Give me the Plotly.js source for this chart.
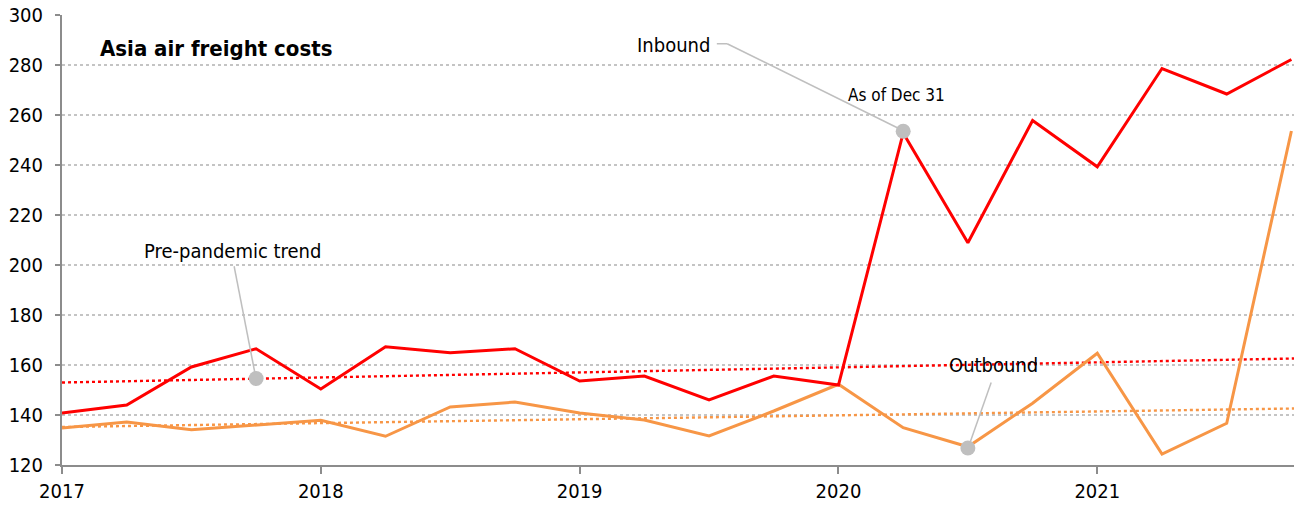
<!DOCTYPE html>
<html><head><meta charset="utf-8">
<script src="https://cdn.plot.ly/plotly-3.0.1.min.js"></script>
<style>html,body{margin:0;padding:0;background:#fff}</style>
</head><body><div id="chart" style="width:1294px;height:508px"></div>
<script>
const quarters = [2017,2017.25,2017.5,2017.75,2018,2018.25,2018.5,2018.75,2019,2019.25,2019.5,2019.75,2020,2020.25,2020.5,2020.75,2021,2021.25,2021.5,2021.75];
const inbound = [140.8,144.0,159.2,166.5,150.4,167.3,164.9,166.5,153.6,155.6,146.0,155.6,152.0,252.8,208.9,257.8,239.3,278.6,268.4,282.2];
const outbound = [134.8,137.2,134.1,136.0,137.9,131.5,143.2,145.2,140.8,138.0,131.6,141.6,152.3,134.9,127.3,144.7,164.7,124.4,136.7,253.6];
const trendX = [2017, 2021.76];
const inboundTrend = [153.0, 162.6];
const outboundTrend = [135.2, 142.6];
const calloutX = [2017.75, 2020.25, 2020.5];
const calloutY = [154.6, 253.5, 126.8];
const yearTicks = [2017,2018,2019,2020,2021];
const yearLabels = ['2017','2018','2019','2020','2021'];

const FONT = 'DejaVu Sans Condensed, DejaVu Sans, sans-serif';
const RED = '#ff0000', ORANGE = '#f79646', GREY = '#bfbfbf';
function f(size, extra){ return Object.assign({family:FONT, size:size, color:'#000', stretch:'condensed'}, extra||{}); }

const traces = [
  {x: trendX, y: outboundTrend, mode:'lines', line:{color:ORANGE, width:2.4, dash:'dot'}, hoverinfo:'skip'},
  {x: trendX, y: inboundTrend, mode:'lines', line:{color:RED, width:2.4, dash:'dot'}, hoverinfo:'skip'},
  {x: quarters, y: outbound, mode:'lines', line:{color:ORANGE, width:3}},
  {x: quarters, y: inbound, mode:'lines', line:{color:RED, width:3}},
  {x: calloutX, y: calloutY, mode:'markers', marker:{color:GREY, size:15}, hoverinfo:'skip'}
];

const layout = {
  width:1294, height:508,
  margin:{l:62, r:0, t:15, b:43},
  showlegend:false,
  paper_bgcolor:'#fff', plot_bgcolor:'#fff',
  font:f(20),
  xaxis:{range:[2017, 2021.76], tickvals:yearTicks, ticktext:yearLabels, showgrid:false,
    zeroline:false, showline:true, linecolor:'#8c8c8c', linewidth:2,
    ticks:'outside', ticklen:7, tickwidth:2, tickcolor:'#8c8c8c',
    tickfont:f(20)},
  yaxis:{range:[120,300], dtick:20, tick0:120, showgrid:true, gridcolor:'#c4c4c4', griddash:'dot', gridwidth:1.5,
    zeroline:false, showline:true, linecolor:'#8c8c8c', linewidth:2,
    ticks:'outside', ticklen:5, tickwidth:2, tickcolor:'#8c8c8c', ticklabelstandoff:8,
    tickfont:f(20)},
  shapes:[
    {type:'line', xref:'x', yref:'y', x0:2017.665, y0:199.5, x1:2017.745, y1:157, line:{color:GREY, width:1.5}},
    {type:'line', xref:'x', yref:'y', x0:2019.53, y0:288.5, x1:2019.57, y1:288.5, line:{color:GREY, width:1.5}},
    {type:'line', xref:'x', yref:'y', x0:2019.57, y0:288.5, x1:2020.245, y1:254, line:{color:GREY, width:1.5}},
    {type:'line', xref:'x', yref:'y', x0:2020.59, y0:153, x1:2020.505, y1:128, line:{color:GREY, width:1.5}}
  ],
  annotations:[
    {xref:'x', yref:'y', x:2017.14, y:286.5, xanchor:'left', yanchor:'middle', showarrow:false,
      text:'<b>Asia air freight costs</b>', font:f(22)},
    {xref:'x', yref:'y', x:2017.31, y:205.8, xanchor:'left', yanchor:'middle', showarrow:false,
      text:'Pre-pandemic trend', font:f(20)},
    {xref:'x', yref:'y', x:2019.51, y:288.2, xanchor:'right', yanchor:'middle', showarrow:false,
      text:'Inbound', font:f(20)},
    {xref:'x', yref:'y', x:2020.225, y:268.2, xanchor:'center', yanchor:'middle', showarrow:false,
      text:'As of Dec 31', font:f(17)},
    {xref:'x', yref:'y', x:2020.6, y:160, xanchor:'center', yanchor:'middle', showarrow:false,
      text:'Outbound', font:f(20)}
  ]
};
Plotly.newPlot('chart', traces, layout, {displayModeBar:false, staticPlot:true});
</script></body></html>
